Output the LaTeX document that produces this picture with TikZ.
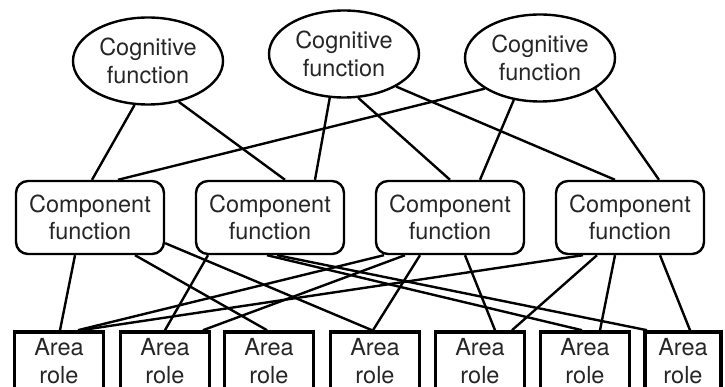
\documentclass[tikz,border=0pt]{standalone}
\usepackage{fontspec}
\setmainfont{TeX Gyre Heros}
\usetikzlibrary{shapes.geometric}

\begin{document}
\begin{tikzpicture}[x=1pt, y=-1pt,
  every node/.style={align=center, text=black!85, inner sep=0pt,
    font=\fontsize{23.5}{27.5}\selectfont},
  cogfun/.style={ellipse, draw, line width=2.4pt, minimum width=150pt, minimum height=87pt},
  compfun/.style={rectangle, draw, rounded corners=12pt, line width=2.4pt,
    minimum width=148pt, minimum height=73pt},
  arearole/.style={rectangle, draw, line width=3.6pt, minimum width=89pt, minimum height=58pt},
  link/.style={line width=2.4pt}]
\useasboundingbox (0,0) rectangle (725,387);
\node[cogfun] (cog1) at (148, 61) {Cognitive\\function};
\node[cogfun] (cog2) at (344, 54) {Cognitive\\function};
\node[cogfun] (cog3) at (540, 58) {Cognitive\\function};
\node[compfun] (comp1) at (90, 217.5) {Component\\function};
\node[compfun] (comp2) at (270, 217.5) {Component\\function};
\node[compfun] (comp3) at (450, 217.5) {Component\\function};
\node[compfun] (comp4) at (630, 217.5) {Component\\function};
\node[arearole] (area1) at (59, 361) {Area\\role};
\node[arearole] (area2) at (165, 361) {Area\\role};
\node[arearole] (area3) at (269, 361) {Area\\role};
\node[arearole] (area4) at (375, 361) {Area\\role};
\node[arearole] (area5) at (480, 361) {Area\\role};
\node[arearole] (area6) at (585, 361) {Area\\role};
\node[arearole, minimum width=76pt] (area7) at (683, 361) {Area\\role};
% cognitive -> component
\draw[link] (cog1.253) -- ([xshift=2pt]comp1.north);
\draw[link] (cog1.307) -- ([xshift=15pt]comp2.north);
\draw[link] (cog2.252) -- ([xshift=45pt]comp2.north);
\draw[link] (cog2.288) -- (comp3.north);
\draw[link] (cog2.328) -- ([xshift=-15pt]comp4.north);
\draw[link] (cog3.209) -- ([xshift=28pt]comp1.north);
\draw[link] (cog3.238) -- ([xshift=30pt]comp3.north);
\draw[link] (cog3.331) -- ([xshift=29pt]comp4.north);
% component -> area
\draw[link] ([xshift=-15pt]comp1.south) -- ([xshift=1pt]area1.north);
\draw[link] ([xshift=45pt]comp1.south) -- ([xshift=-2pt]area3.north);
\draw[link] ([yshift=12pt]comp1.south east) -- ([xshift=-3pt]area4.north);
\draw[link] ([xshift=-62pt]comp2.south) -- (area2.north);
\draw[link] ([xshift=-3pt]comp2.south) -- ([xshift=-3pt]area6.north);
\draw[link] ([xshift=7pt]comp2.south) -- ([xshift=-36pt]area7.north);
\draw[link] ([xshift=-66pt]comp3.south) -- ([xshift=19pt]area1.north);
\draw[link] ([xshift=-45pt]comp3.south) -- ([xshift=38pt]area2.north);
\draw[link] ([xshift=-30pt]comp3.south) -- ([xshift=-2pt]area4.north);
\draw[link] ([xshift=15pt]comp3.south) -- ([xshift=15pt]area5.north);
\draw[link] ([xshift=-47pt]comp4.south) -- ([xshift=22pt]area1.north);
\draw[link] ([xshift=-33pt]comp4.south) -- ([xshift=32pt]area5.north);
\draw[link] ([xshift=-15pt]comp4.south) -- ([xshift=15pt]area6.north);
\draw[link] ([xshift=30pt]comp4.south) -- ([xshift=7pt]area7.north);
\end{tikzpicture}
\end{document}
